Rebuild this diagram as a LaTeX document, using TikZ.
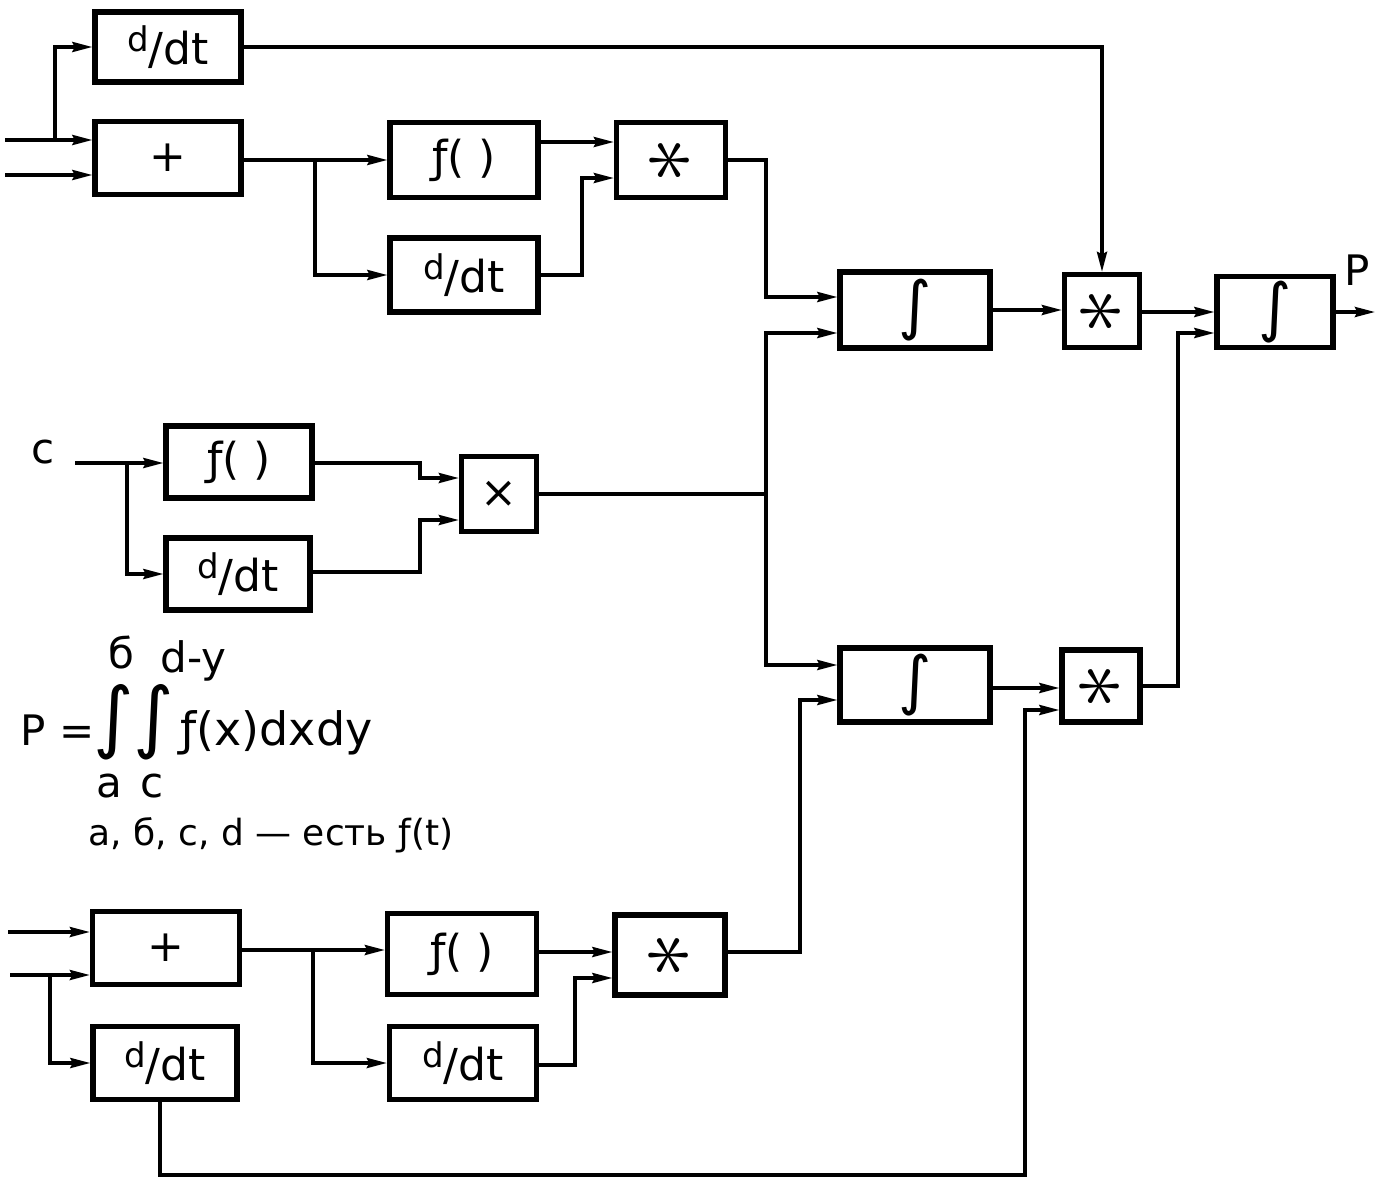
\RequirePackage{fix-cm}
\documentclass[tikz,border=0pt]{standalone}
\usepackage{fontspec}
\usepackage{graphicx}
\setmainfont{DejaVu Sans}
\usetikzlibrary{arrows.meta,calc}
\newcommand\myddt{\raisebox{0.3em}{\fontsize{17}{20}\selectfont d}/dt}
\newcommand\mymul{\rotatebox{90}{\fontsize{46}{46}\selectfont$\ast$}}
\newcommand\myint{{\fontsize{32}{34}\selectfont ∫}}
\begin{document}
\begin{tikzpicture}[x=0.5pt,y=-0.5pt,
  blk/.style={draw,line width=2.6pt,inner sep=0pt,font=\fontsize{22}{25}\selectfont},
  sz/.style 2 args={minimum width=#1*0.5pt,minimum height=#2*0.5pt},
  wire/.style={line width=1.7pt},
  arr/.style={wire,-{Stealth[length=10pt,width=5pt,inset=1.2pt]}},
  lbl/.style={inner sep=0pt,font=\fontsize{21}{24}\selectfont}]
\useasboundingbox (0,0) rectangle (1377,1179);
% blocks
\node[blk,sz={146}{70}] (D1) at (168,47) {\myddt};
\node[blk,sz={146}{73}] (P1) at (168,158) {+};
\node[blk,sz={148}{75}] (F1) at (464,160) {ƒ( )};
\node[blk,sz={148}{74}] (D2) at (464,275) {\myddt};
\node[blk,sz={109}{75}] (M1) at (671,160) {\mymul};
\node[blk,sz={150}{76}] (I1) at (915,310) {\myint};
\node[blk,sz={75}{73}] (M2) at (1102,311) {\mymul};
\node[blk,sz={116}{71}] (I3) at (1275,312) {\myint};
\node[blk,sz={146}{72}] (F2) at (239,462) {ƒ( )};
\node[blk,sz={144}{72}] (D3) at (238,574) {\myddt};
\node[blk,sz={75}{75}] (X) at (499,494) {×};
\node[blk,sz={150}{74}] (I2) at (915,685) {\myint};
\node[blk,sz={78}{72}] (M3) at (1101,686) {\mymul};
\node[blk,sz={147}{73}] (P2) at (166,948) {+};
\node[blk,sz={144}{73}] (D4) at (165,1063) {\myddt};
\node[blk,sz={149}{81}] (F3) at (462,954) {ƒ( )};
\node[blk,sz={147}{73}] (D5) at (463,1063) {\myddt};
\node[blk,sz={110}{80}] (M4) at (670,955) {\mymul};
% top group
\coordinate (inA) at (5,140);
\coordinate (inB) at (5,175);
\coordinate (jA) at (55,140);
\draw[arr] (inA) -- (inA -| P1.west);
\draw[arr] (inB) -- (inB -| P1.west);
\draw[arr] (jA) |- (D1.west);
\draw[arr] (D1.east) -| (M2.north);
\coordinate (jB) at (315,160);
\draw[arr] (P1.east |- jB) -- (jB -| F1.west);
\draw[arr] (jB) |- (D2.west);
\draw[arr] (F1.east |- 0,142) -- (M1.west |- 0,142);
\draw[arr] (D2.east) -| (582,178) -- (M1.west |- 0,178);
\draw[arr] (M1.east) -| (766,297) -- (I1.west |- 0,297);
\coordinate (jC) at (766,494);
\draw[wire] (X.east) -- (jC);
\draw[arr] (jC) |- (I1.west |- 0,333);
\draw[arr] (jC) |- (I2.west |- 0,665);
\draw[arr] (I1.east) -- (I1.east -| M2.west);
\draw[arr] (M2.east |- 0,312) -- (I3.west |- 0,312);
\draw[arr] (M3.east) -| (1178,333) -- (I3.west |- 0,333);
\draw[arr] (I2.east |- 0,688) -- (M3.west |- 0,688);
\coordinate (outP) at (1375,312);
\draw[arr] (I3.east |- outP) -- (outP);
\node[lbl] (Pl) at (1357,270) {P};
% middle group
\node[lbl] (cl) at (43,452) {c};
\coordinate (inC) at (75,463);
\coordinate (jD) at (127,463);
\draw[arr] (inC) -- (inC -| F2.west);
\draw[arr] (jD) |- (D3.west);
\draw[arr] (F2.east |- 0,463) -| (420,478) -- (X.west |- 0,478);
\draw[arr] (D3.east |- 0,572) -| (420,520) -- (X.west |- 0,520);
% bottom group
\coordinate (inD) at (8,932);
\coordinate (inE) at (10,975);
\coordinate (jE) at (50,975);
\draw[arr] (inD) -- (inD -| P2.west);
\draw[arr] (inE) -- (inE -| P2.west);
\draw[arr] (jE) |- (D4.west);
\coordinate (jF) at (313,950);
\draw[arr] (P2.east |- jF) -- (jF -| F3.west);
\draw[arr] (jF) |- (D5.west);
\draw[arr] (F3.east |- 0,952) -- (M4.west |- 0,952);
\draw[arr] (D5.east |- 0,1065) -| (575,978) -- (M4.west |- 0,978);
\draw[arr] (M4.east |- 0,952) -| (800,700) -- (I2.west |- 0,700);
\draw[arr] (D4.south -| 160,0) -- (160,1175) -| (1025,710) -- (M3.west |- 0,710);
% formula
\node[lbl,anchor=base west] (fP) at (20,745) {P =};
\node[lbl,font=\fontsize{39}{42}\selectfont] (int1) at (114,722) {∫};
\node[lbl,font=\fontsize{39}{42}\selectfont] (int2) at (154,722) {∫};
\node[lbl,anchor=base west,font=\fontsize{23}{26}\selectfont] (fx) at (180,745) {ƒ(x)dxdy};
\node[lbl,anchor=base west] (ub) at (108,668) {б};
\node[lbl,anchor=base west] (ud) at (160,672) {d-y};
\node[lbl,anchor=base west] (la) at (96,797) {a};
\node[lbl,anchor=base west] (lc) at (140,797) {c};
\node[lbl,anchor=base west,font=\fontsize{18}{22}\selectfont] (note) at (88,845) {a, б, c, d — есть ƒ(t)};
\end{tikzpicture}
\end{document}
